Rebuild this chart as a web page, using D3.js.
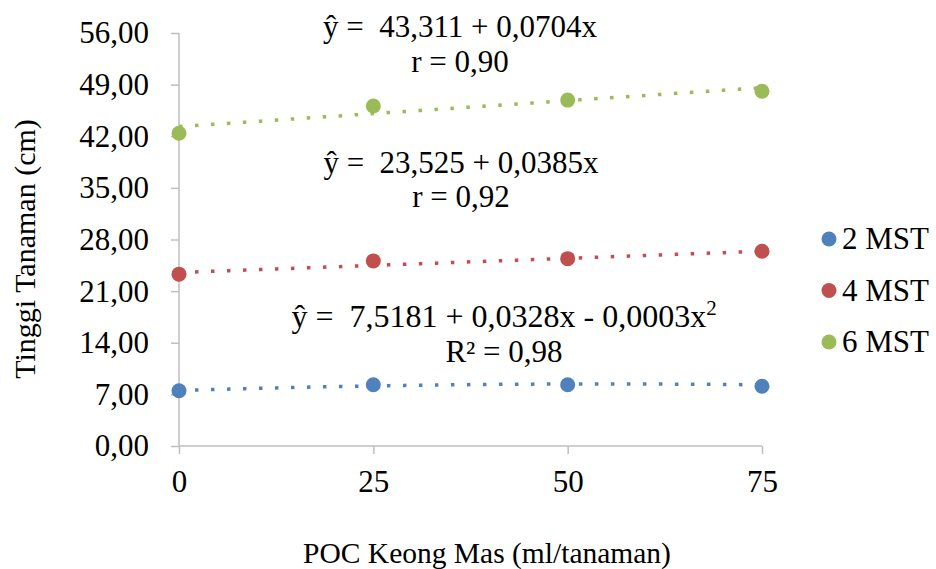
<!DOCTYPE html>
<html>
<head>
<meta charset="utf-8">
<script src="https://cdn.jsdelivr.net/npm/d3@7"></script>
<style>
  body { margin: 0; background: #fff; }
</style>
</head>
<body>
<svg id="chart" width="936" height="569"></svg>
<script>
// doses of POC (ml/tanaman)
const doses = [0, 25, 50, 75]
const seriesNames = ["2 MST", "4 MST", "6 MST"]
const mst2 = [7.5, 8.3, 8.3, 8.1]
const mst4 = [23.3, 25.1, 25.4, 26.4]
const mst6 = [42.4, 46.1, 46.9, 48.1]
const yTicks = [0, 7, 14, 21, 28, 35, 42, 49, 56]
const colors = ["#4f81bd", "#c0504d", "#9bbb59"]

// trendline coefficients [a, b, c] for a + b x + c x^2
const trend2 = [7.5181, 0.0328, -0.0003]
const trend4 = [23.525, 0.0385, 0]
const trend6 = [43.311, 0.0704, 0]

const eqLines = [
    ["ŷ =  7,5181 + 0,0328x - 0,0003x", "R² = 0,98"],
    ["ŷ =  23,525 + 0,0385x", "r = 0,92"],
    ["ŷ =  43,311 + 0,0704x", "r = 0,90"]
]

const series = [mst2, mst4, mst6]
const trends = [trend2, trend4, trend6]

const svg = d3.select("#chart")
const serif = '"Liberation Serif", "Times New Roman", serif'
const fs = 31

const x = d3.scaleLinear().domain([0, 75]).range([179, 762])
const y = d3.scaleLinear().domain([0, 56]).range([446, 33])

const axisColor = "#bfbfbf"

// y axis
const yAxis = svg.append("g")
    .attr("transform", "translate(179,0)")
    .call(d3.axisLeft(y).tickValues(yTicks).tickSize(8).tickPadding(22)
        .tickFormat(d => d3.format(".2f")(d).replace(".", ",")))

// x axis
const xAxis = svg.append("g")
    .attr("transform", "translate(0,446)")
    .call(d3.axisBottom(x).tickValues(doses).tickSize(8).tickPadding(16)
        .tickFormat(d3.format("d")))

svg.selectAll(".tick text").attr("fill", "#000").attr("font-size", fs)

svg.selectAll(".domain, .tick line")
    .attr("stroke", axisColor)
    .attr("stroke-width", 1.5)
// excel style: no outer tick caps
yAxis.select(".domain").attr("d", "M0,33V446")
xAxis.select(".domain").attr("d", "M179,0H762")

// axis titles
svg.append("text")
    .attr("transform", "translate(35,249) rotate(-90)")
    .attr("text-anchor", "middle")
    .attr("font-size", 30)
    .text("Tinggi Tanaman (cm)")

svg.append("text")
    .attr("x", 487)
    .attr("y", 563)
    .attr("text-anchor", "middle")
    .attr("font-size", 29.5)
    .text("POC Keong Mas (ml/tanaman)")

// trendlines
const xs = d3.range(0, 75.01, 0.5)
const line = d3.line().x(d => x(d[0])).y(d => y(d[1]))
trends.forEach((t, i) => {
    svg.append("path")
        .datum(xs.map(v => [v, t[0] + t[1] * v + t[2] * v * v]))
        .attr("d", line)
        .attr("fill", "none")
        .attr("stroke", colors[i])
        .attr("stroke-width", 3.5)
        .attr("stroke-dasharray", "3.5,12.5")
})

// points
series.forEach((s, i) => {
    svg.append("g").selectAll("circle")
        .data(s)
        .join("circle")
        .attr("cx", (d, j) => x(doses[j]))
        .attr("cy", d => y(d))
        .attr("r", 7.5)
        .attr("fill", colors[i])
})

// equation labels
const eqPos = [[504, 327, 362], [461, 173, 207], [460, 37, 72]]
eqLines.forEach((lines, i) => {
    const p = eqPos[i]
    const t1 = svg.append("text")
        .attr("x", p[0]).attr("y", p[1])
        .attr("text-anchor", "middle")
        .attr("font-size", i === 0 ? 32 : fs)
        .style("white-space", "pre")
        .text(lines[0])
    if (i === 0) {
        t1.append("tspan").attr("dy", -12).attr("font-size", 21).text("2")
    }
    svg.append("text")
        .attr("x", p[0]).attr("y", p[2])
        .attr("text-anchor", "middle")
        .attr("font-size", fs)
        .text(lines[1])
})

// legend
const legend = svg.append("g")
seriesNames.forEach((n, i) => {
    const ly = 239 + i * 51.5
    legend.append("circle").attr("cx", 829).attr("cy", ly).attr("r", 7.5).attr("fill", colors[i])
    legend.append("text").attr("x", 842).attr("y", ly + 10)
        .attr("font-size", fs).text(n)
})

// every text in Times-like serif
svg.selectAll("text").style("font-family", serif).attr("fill", "#000")
</script>
</body>
</html>
